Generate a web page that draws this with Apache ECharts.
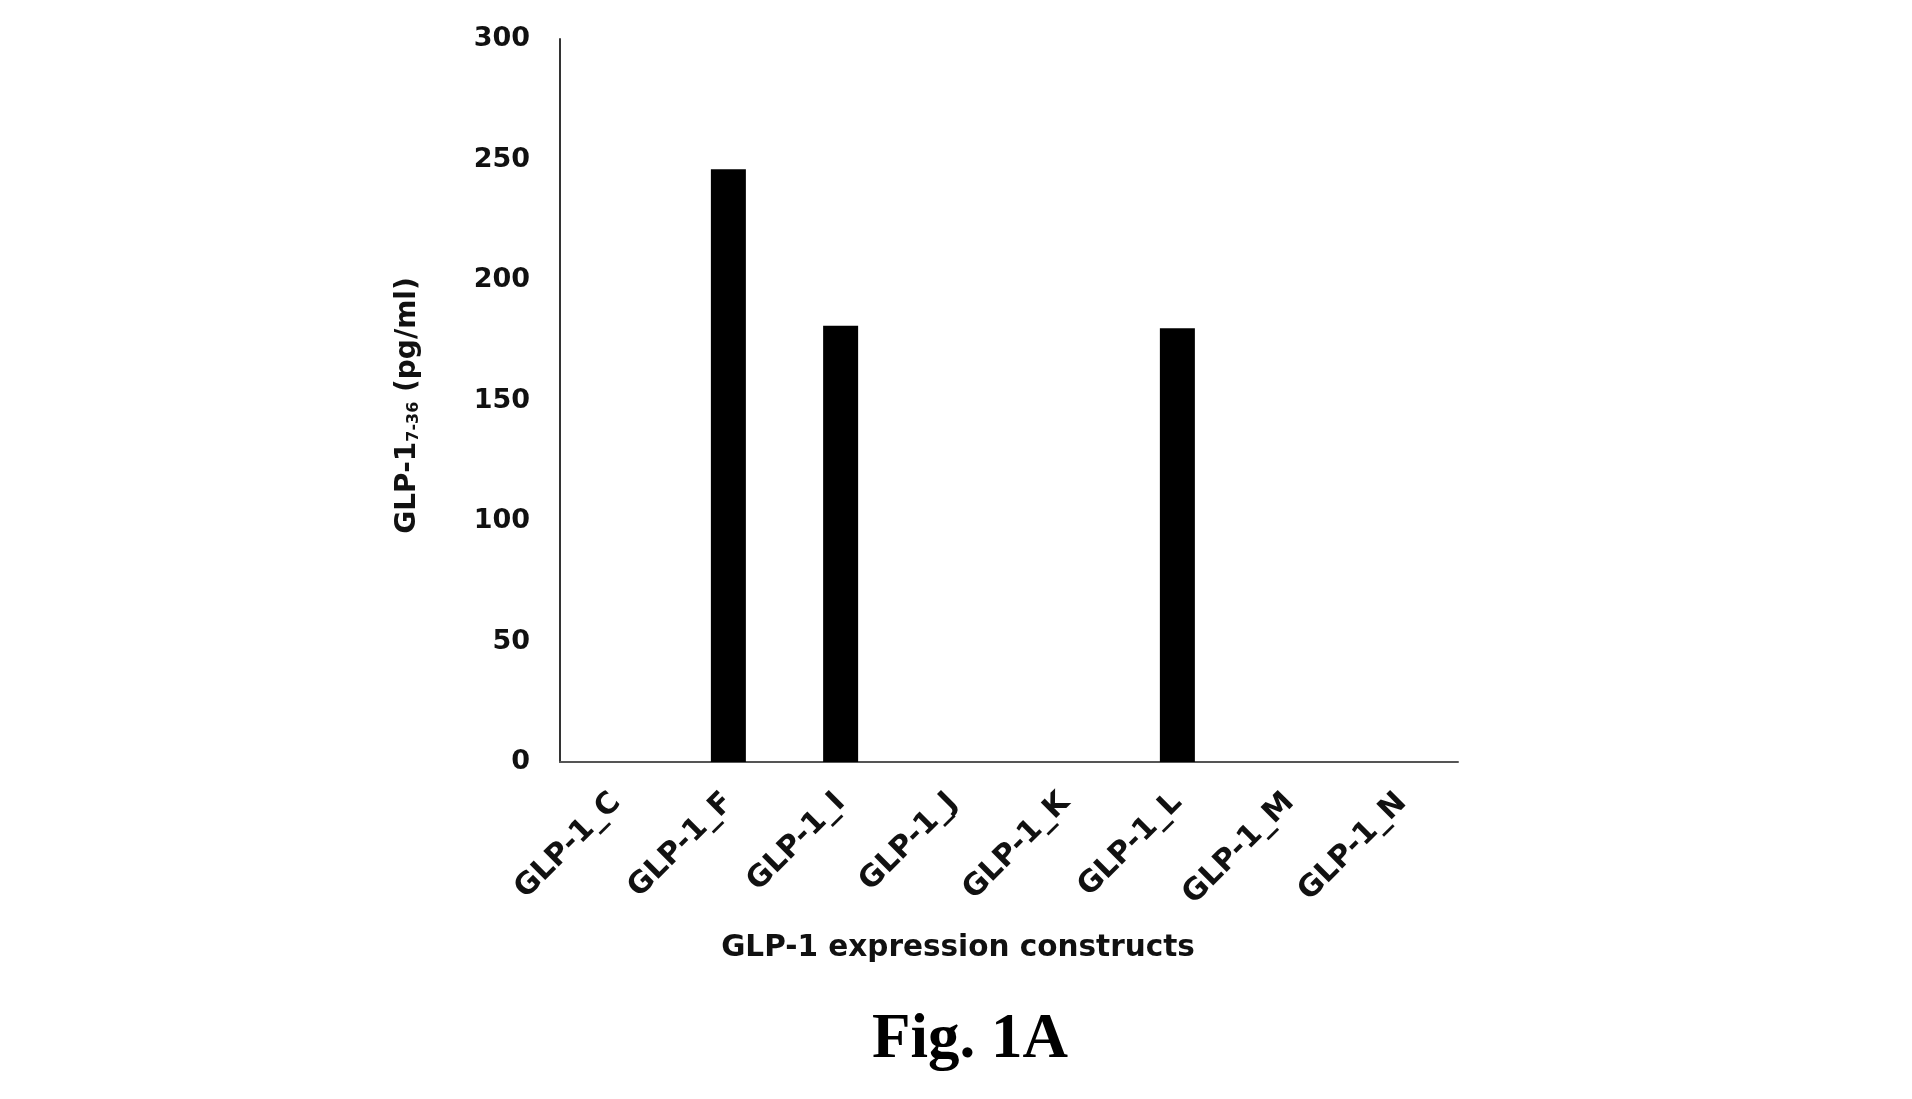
<!DOCTYPE html>
<html>
<head>
<meta charset="utf-8">
<script src="https://cdn.jsdelivr.net/npm/echarts@6/dist/echarts.min.js"></script>
<style>
html,body{margin:0;padding:0;background:#fff;}
#chart{width:1912px;height:1099px;}
</style>
</head>
<body>
<div id="chart"></div>
<script>
const categories = ['GLP-1_C','GLP-1_F','GLP-1_I','GLP-1_J','GLP-1_K','GLP-1_L','GLP-1_M','GLP-1_N'];
const values = [0, 246, 181, 0, 0, 180, 0, 0];
const yMin = 0, yMax = 300, yInterval = 50;
const xTitle = 'GLP-1 expression constructs';
const figLabel = 'Fig. 1A';

const chart = echarts.init(document.getElementById('chart'), null, {renderer:'canvas'});
chart.setOption({
  backgroundColor:'#fff',
  animation:false,
  grid:{left:560, right:454, top:39, bottom:337, containLabel:false},
  title:[
    {text:xTitle, left:953, top:928, textAlign:'center',
     textStyle:{fontFamily:'DejaVu Sans', fontSize:29.5, fontWeight:'bold', color:'#111'}},
    {text:figLabel, left:965, top:1004, textAlign:'center',
     textStyle:{fontFamily:'Liberation Serif', fontSize:63, fontWeight:'bold', color:'#000'}}
  ],
  xAxis:{
    type:'category', data:categories,
    axisLine:{lineStyle:{color:'#555', width:2}},
    axisTick:{show:false},
    axisLabel:{rotate:45, margin:36, fontFamily:'DejaVu Sans', fontWeight:'bold', fontSize:30, color:'#111'}
  },
  yAxis:{
    type:'value', min:yMin, max:yMax, interval:yInterval,
    name:'GLP-1{sub|7-36} (pg/ml)', nameLocation:'middle', nameGap:138, nameRotate:90,
    nameTextStyle:{fontFamily:'DejaVu Sans', fontWeight:'bold', fontSize:28, color:'#111', padding:[0,10,0,0],
      rich:{sub:{fontFamily:'DejaVu Sans', fontSize:16, fontWeight:'bold', color:'#111', verticalAlign:'bottom', padding:[12,0,0,0]}}},
    axisLine:{show:true, lineStyle:{color:'#333', width:2}},
    axisTick:{show:false},
    splitLine:{show:false},
    axisLabel:{margin:30, fontFamily:'DejaVu Sans', fontWeight:'bold', fontSize:27, color:'#111'}
  },
  series:[{
    type:'bar', data:values, barWidth:35,
    itemStyle:{color:'#000'}
  }]
});
</script>
</body>
</html>
